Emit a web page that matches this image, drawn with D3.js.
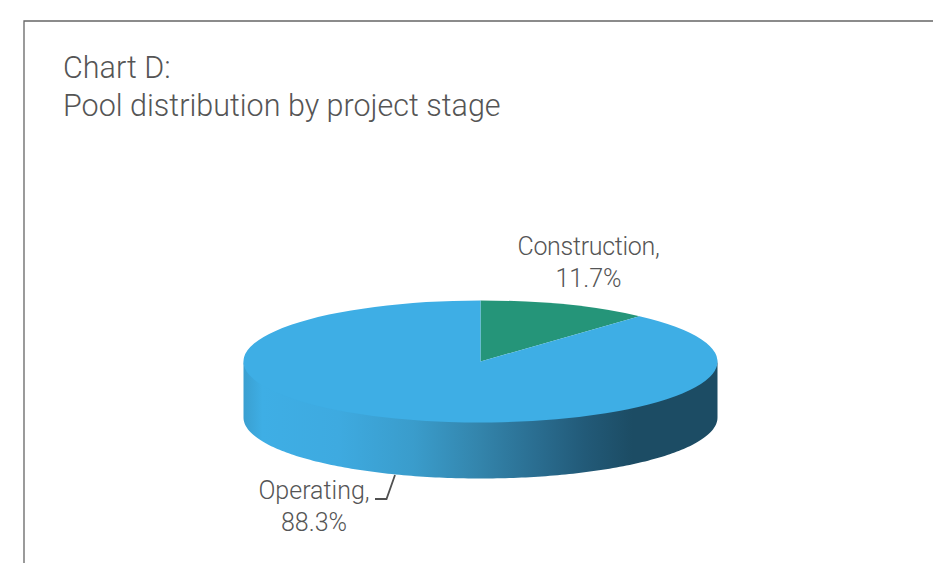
<!DOCTYPE html>
<html>
<head>
<meta charset="utf-8">
<title>Chart D</title>
<script src="https://d3js.org/d3.v7.min.js"></script>
<style type="text/css">
    html, body { margin: 0; padding: 0; background: #fff; overflow: hidden; }
    text { font-family: Roboto, sans-serif; font-weight: 300; fill: #555; }
</style>
</head>
<body>
<div id="chart"></div>
<script type="text/javascript">
var categories = ['Construction', 'Operating'];
var shares = [11.7, 88.3];
var sliceColors = ['#259579', '#3eaee5'];
var titleLines = ['Chart D:', 'Pool distribution by project stage'];

var width = 933, height = 563;
var cx = 480.5, cy = 361.5;
var rx = 237, ry = 61, depth = 56;

var svg = d3.select('#chart').append('svg')
    .attr('width', width)
    .attr('height', height)
    .style('display', 'block');

// frame, only top and left are visible in the crop
svg.append('path')
    .attr('d', d3.line()([[24, height], [24, 21], [width, 21]]))
    .attr('fill', 'none')
    .attr('stroke', '#666')
    .attr('stroke-width', 1.3);

svg.selectAll('.title')
    .data(titleLines)
    .enter().append('text')
    .attr('class', 'title')
    .attr('x', 63)
    .attr('y', function(d, i) { return 77.5 + i * 38; })
    .style('font-size', '30.5px')
    .text(function(d) { return d; });

// side wall gradient, left to right
var grad = svg.append('defs').append('linearGradient')
    .attr('id', 'wall')
    .attr('gradientUnits', 'userSpaceOnUse')
    .attr('x1', cx - rx).attr('x2', cx + rx)
    .attr('y1', 0).attr('y2', 0);
[[0, '#3a9fd0'], [0.04, '#3eaee5'], [0.2, '#3eaae0'], [0.36, '#3a9ccb'],
 [0.5, '#3384ab'], [0.62, '#2a6d90'], [0.72, '#225a78'], [0.82, '#1c4c64'], [1, '#1c4c64']]
    .forEach(function(s) {
        grad.append('stop').attr('offset', s[0]).attr('stop-color', s[1]);
    });

// front half of the rim, top edge tucked under the top face so no seam shows
var wall = d3.area()
    .x(function(a) { return cx + rx * Math.cos(a); })
    .y0(function(a) { return cy + ry * Math.sin(a) - 2; })
    .y1(function(a) { return cy + ry * Math.sin(a) + depth; });

svg.append('path')
    .attr('d', wall(d3.range(0, 181).map(function(d) { return d * Math.PI / 180; })))
    .attr('fill', 'url(#wall)');

// top face: normal pie squashed into an ellipse
var pie = d3.pie().sort(null);
var arc = d3.arc().innerRadius(0).outerRadius(rx);

svg.append('g')
    .attr('transform', 'translate(' + cx + ',' + cy + ') scale(1,' + (ry / rx) + ')')
    .selectAll('path')
    .data(pie(shares))
    .enter().append('path')
    .attr('d', arc)
    .attr('fill', function(d, i) { return sliceColors[i]; });

// labels
var labelPos = [
    { x: 588.5, y: 255, spacing: -0.3 },
    { x: 314, y: 499, spacing: 0 }
];
var label = svg.selectAll('.label')
    .data(categories)
    .enter().append('text')
    .attr('class', 'label')
    .attr('text-anchor', 'middle')
    .style('font-size', '25px');
label.append('tspan')
    .attr('x', function(d, i) { return labelPos[i].x; })
    .attr('y', function(d, i) { return labelPos[i].y; })
    .style('letter-spacing', function(d, i) { return labelPos[i].spacing + 'px'; })
    .text(function(d) { return d + ','; });
label.append('tspan')
    .attr('x', function(d, i) { return labelPos[i].x; })
    .attr('y', function(d, i) { return labelPos[i].y + 31.5; })
    .text(function(d, i) { return shares[i].toFixed(1) + '%'; });

// leader for Operating
svg.append('path')
    .attr('d', d3.line()([[395, 475], [386.5, 499], [375, 499]]))
    .attr('fill', 'none')
    .attr('stroke', '#505050')
    .attr('stroke-width', 1.8);
</script>
</body>
</html>
